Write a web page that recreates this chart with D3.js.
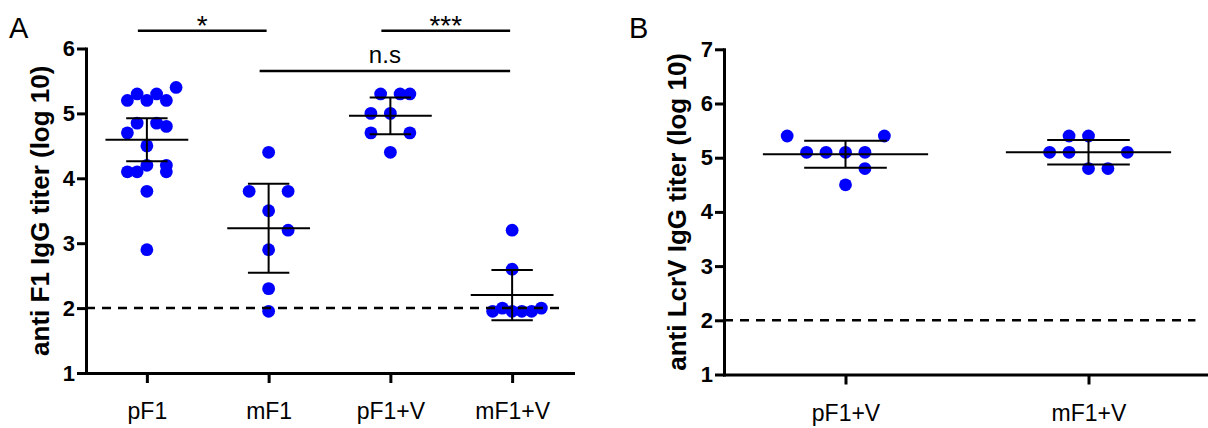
<!DOCTYPE html>
<html>
<head>
<meta charset="utf-8">
<script src="https://cdnjs.cloudflare.com/ajax/libs/d3/7.8.5/d3.min.js"></script>
<style>
  body { margin: 0; background: #fff; }
  svg { font-family: Arial, "Liberation Sans", sans-serif; }
</style>
</head>
<body>
<script>
// ---- panel A data (log10 titers), slot = horizontal spread index of each dot
let catsA = ["pF1", "mF1", "pF1+V", "mF1+V"]
let pF1 = [5.4, 5.2, 5.3, 5.2, 5.3, 5.2, 4.85, 4.7, 4.85, 4.8, 4.5, 4.1, 4.1, 4.2, 4.2, 4.1, 3.8, 2.9]
let pF1Slot = [3, -2, -1, 0, 1, 2, -1, -2, 1, 2, 0, -2, -1, 0, 2, 2, 0, 0]
let mF1 = [4.4, 3.8, 3.8, 3.5, 3.2, 2.9, 2.3, 1.95]
let mF1Slot = [0, -2, 2, 0, 2, 0, 0, 0]
let pF1V = [5.3, 5.3, 5.3, 5.0, 5.0, 4.7, 4.7, 4.4]
let pF1VSlot = [-1, 1, 2, -2, 0, -2, 2, 0]
let mF1V = [3.2, 2.6, 1.95, 2.0, 1.95, 1.95, 1.95, 2.0]
let mF1VSlot = [0, 0, -2, -1, 0, 1, 2, 3]

// ---- panel B data
let catsB = ["pF1+V", "mF1+V"]
let bpF1V = [5.4, 5.4, 5.1, 5.1, 5.1, 5.1, 4.8, 4.5]
let bpF1VSlot = [-3, 2, -2, -1, 0, 1, 1, 0]
let bmF1V = [5.4, 5.4, 5.1, 5.1, 5.1, 4.8, 4.8]
let bmF1VSlot = [-1, 0, -2, -1, 2, 0, 1]

// significance brackets on panel A
let sigText = ["*", "n.s", "***"]
let sigFrom = ["pF1", "mF1", "pF1+V"]
let sigTo = ["mF1", "mF1+V", "mF1+V"]
let sigRow = [0, 1, 0]

let ticksA = [1, 2, 3, 4, 5, 6]
let ticksB = [1, 2, 3, 4, 5, 6, 7]
let detectionLimit = 2

// two-sided 95% t critical values by degrees of freedom
let t95 = { 6: 2.447, 7: 2.365, 17: 2.110 }

let width = 1208
let height = 428

let svg = d3.select("body").append("svg")
    .attr("width", width)
    .attr("height", height)

function groupStats(v) {
    let n = v.length
    let m = d3.mean(v)
    let half = t95[n - 1] * d3.deviation(v) / Math.sqrt(n)
    return { mean: m, lo: m - half, hi: m + half }
}

function drawPanel(o) {
    let x = d3.scalePoint().domain(o.cats).range([o.left, o.right]).padding(0.5)
    let y = d3.scaleLinear().domain([o.ticks[0], o.ticks[o.ticks.length - 1]]).range([o.bottom, o.top])
    let step = x.step()
    let slotW = step * 0.08

    let xAxis = svg.append("g")
        .attr("transform", "translate(0," + o.bottom + ")")
        .call(d3.axisBottom(x).tickSize(10).tickSizeOuter(0).tickPadding(20))
    xAxis.selectAll("text").style("font-size", "23px").attr("fill", "#000")

    let yAxis = svg.append("g")
        .attr("transform", "translate(" + o.left + ",0)")
        .call(d3.axisLeft(y).tickValues(o.ticks).tickFormat(d3.format("d")).tickSize(9).tickSizeOuter(0).tickPadding(2))
    yAxis.selectAll("text").style("font-size", "22px").style("font-weight", "bold").attr("fill", "#000")

    svg.selectAll(".domain").attr("stroke-width", 3).attr("stroke", "#000").attr("stroke-linecap", "square")
    svg.selectAll(".tick line").attr("stroke-width", 3).attr("stroke", "#000")

    // dots
    o.groups.forEach((g, gi) => {
        let cx = x(o.cats[gi])
        svg.append("g").selectAll("circle")
            .data(g.values)
            .enter()
            .append("circle")
            .attr("cx", (d, i) => cx + g.slots[i] * slotW)
            .attr("cy", d => y(d))
            .attr("r", 6.4)
            .attr("fill", "#0000ff")
    })

    // mean with 95% CI
    o.groups.forEach((g, gi) => {
        let cx = x(o.cats[gi])
        let s = groupStats(g.values)
        let eg = svg.append("g").attr("stroke", "#000").attr("stroke-width", 2)
        eg.append("line").attr("x1", cx - step * 0.34).attr("x2", cx + step * 0.34)
            .attr("y1", y(s.mean)).attr("y2", y(s.mean))
        eg.append("line").attr("x1", cx).attr("x2", cx)
            .attr("y1", y(s.lo)).attr("y2", y(s.hi))
        ;[s.lo, s.hi].forEach(v => {
            eg.append("line").attr("x1", cx - step * 0.17).attr("x2", cx + step * 0.17)
                .attr("y1", y(v)).attr("y2", y(v))
        })
    })

    // detection limit
    svg.append("line")
        .attr("x1", o.left).attr("x2", x(o.cats[o.cats.length - 1]) + step * 0.44)
        .attr("y1", y(detectionLimit)).attr("y2", y(detectionLimit))
        .attr("stroke", "#000").attr("stroke-width", 2.5)
        .attr("stroke-dasharray", "9,7")

    svg.append("text")
        .attr("transform", "translate(" + o.titleX + "," + ((o.top + o.bottom) / 2) + ") rotate(-90)")
        .attr("text-anchor", "middle")
        .attr("dominant-baseline", "central")
        .style("font-size", "26px")
        .style("font-weight", "bold")
        .text(o.title)

    svg.append("text")
        .attr("x", o.letterX).attr("y", 38)
        .style("font-size", "29px")
        .text(o.letter)

    return x
}

let xA = drawPanel({
    cats: catsA, ticks: ticksA,
    left: 86, right: 573, top: 48.5, bottom: 373,
    groups: [
        { values: pF1, slots: pF1Slot },
        { values: mF1, slots: mF1Slot },
        { values: pF1V, slots: pF1VSlot },
        { values: mF1V, slots: mF1VSlot }
    ],
    title: "anti F1 IgG titer (log 10)", titleX: 40,
    letter: "A", letterX: 9
})

drawPanel({
    cats: catsB, ticks: ticksB,
    left: 724, right: 1210, top: 49.3, bottom: 374.5,
    groups: [
        { values: bpF1V, slots: bpF1VSlot },
        { values: bmF1V, slots: bmF1VSlot }
    ],
    title: "anti LcrV IgG titer (log 10)", titleX: 677,
    letter: "B", letterX: 629
})

// significance bars
let rowY = [30.7, 71]
sigText.forEach((t, i) => {
    let x1 = xA(sigFrom[i]) - 9
    let x2 = xA(sigTo[i]) - 2
    let yy = rowY[sigRow[i]]
    svg.append("line")
        .attr("x1", x1).attr("x2", x2)
        .attr("y1", yy).attr("y2", yy)
        .attr("stroke", "#000").attr("stroke-width", 2.5)
    svg.append("text")
        .attr("x", (x1 + x2) / 2)
        .attr("y", t == "n.s" ? yy - 8 : yy + 4)
        .attr("text-anchor", "middle")
        .style("font-size", t == "n.s" ? "24px" : "28px")
        .text(t)
})
</script>
</body>
</html>
